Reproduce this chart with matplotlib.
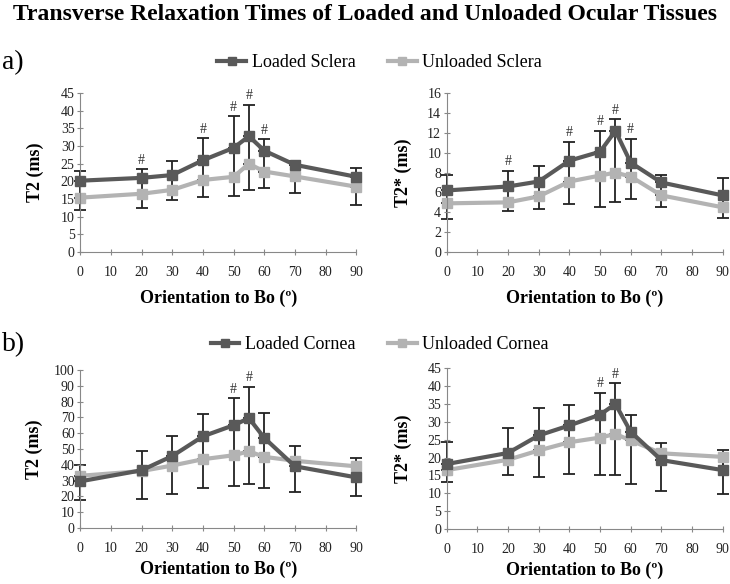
import numpy as np
import matplotlib.pyplot as plt

plt.rcParams['font.family'] = ['Liberation Serif', 'DejaVu Serif']

angles = [0, 20, 30, 40, 50, 55, 60, 70, 90]

# a) sclera, T2
sc_t2_loaded = [20.2, 21.0, 21.8, 26.0, 29.5, 32.8, 28.7, 24.7, 21.3]
sc_t2_loaded_up = [2.8, 2.5, 3.9, 6.3, 9.0, 8.9, 3.3, 1.1, 2.4]
sc_t2_unloaded = [15.4, 16.5, 17.6, 20.4, 21.3, 25.0, 22.8, 21.4, 18.5]
sc_t2_unloaded_dn = [3.6, 4.0, 2.9, 4.8, 5.3, 7.4, 4.8, 4.8, 5.1]

# a) sclera, T2*
sc_t2s_loaded = [6.2, 6.6, 7.1, 9.2, 10.1, 12.2, 9.0, 7.0, 5.7]
sc_t2s_loaded_up = [1.6, 1.6, 1.6, 1.9, 2.1, 1.2, 2.4, 0.8, 1.8]
sc_t2s_unloaded = [4.9, 5.0, 5.6, 7.1, 7.7, 8.0, 7.6, 5.7, 4.5]
sc_t2s_unloaded_dn = [1.6, 0.9, 1.3, 2.3, 3.2, 3.0, 2.3, 1.2, 1.1]

# b) cornea, T2
co_t2_loaded = [29.5, 36.5, 45.5, 58.0, 65.0, 69.5, 57.0, 39.0, 32.0]
co_t2_loaded_up = [10.5, 12.5, 13.0, 14.0, 17.0, 20.0, 16.0, 13.0, 12.0]
co_t2_unloaded = [33.0, 36.0, 39.5, 43.5, 46.0, 48.5, 45.0, 42.5, 39.0]
co_t2_unloaded_dn = [15.5, 17.5, 18.0, 18.0, 19.5, 20.5, 19.5, 20.0, 18.5]

# b) cornea, T2*
co_t2s_loaded = [18.2, 21.3, 26.2, 29.0, 32.0, 35.0, 27.2, 19.3, 16.5]
co_t2s_loaded_up = [6.1, 7.1, 7.8, 5.7, 6.2, 5.8, 4.8, 4.7, 5.5]
co_t2s_unloaded = [16.5, 19.4, 22.0, 24.3, 25.6, 26.6, 24.8, 21.2, 20.2]
co_t2s_unloaded_dn = [3.2, 4.4, 7.3, 9.0, 10.6, 11.6, 12.2, 10.5, 10.4]

sig_sclera = [20, 40, 50, 55, 60]
sig_cornea = [50, 55]

dark = '#595959'
light = '#b3b3b3'


def panel(ax, loaded, up, unloaded, dn, sig, ymax, ystep, ylabel, xpad, ypad):
    loaded = np.array(loaded)
    unloaded = np.array(unloaded)
    up = np.array(up)
    dn = np.array(dn)
    # connecting piece of the error bar between the two series
    ax.vlines(angles, np.minimum(loaded, unloaded), np.maximum(loaded, unloaded),
              color='#222222', lw=1.3, zorder=1)
    ax.errorbar(angles, loaded, yerr=[np.zeros_like(up), up], fmt='none',
                ecolor='#222222', elinewidth=1.3, capsize=4, capthick=1.3, zorder=1)
    ax.errorbar(angles, unloaded, yerr=[dn, np.zeros_like(dn)], fmt='none',
                ecolor='#222222', elinewidth=1.3, capsize=4, capthick=1.3, zorder=1)
    l1, = ax.plot(angles, loaded, color=dark, lw=3, marker='s', ms=6.5, zorder=3)
    l2, = ax.plot(angles, unloaded, color=light, lw=3, marker='s', ms=6.5, zorder=2)
    for a in sig:
        i = angles.index(a)
        ax.text(a, loaded[i] + up[i] + ymax * 0.015, '#', ha='center', va='bottom',
                fontsize=10, color='#333333')
    ax.set_xlim(0, 90)
    ax.set_ylim(0, ymax)
    ax.set_xticks(range(0, 91, 10))
    ax.set_yticks(np.arange(0, ymax + 0.1, ystep))
    ax.set_xlabel('Orientation to Bo (º)', fontsize=13, fontweight='bold', labelpad=xpad)
    ax.set_ylabel(ylabel, fontsize=13, fontweight='bold', labelpad=ypad)
    for s in ['top', 'right']:
        ax.spines[s].set_visible(False)
    for s in ['left', 'bottom']:
        ax.spines[s].set_color('#888888')
    ax.tick_params(axis='both', colors='#888888', labelcolor='#222222',
                   labelsize=10, length=4, direction='inout')
    ax.tick_params(axis='x', pad=8)
    ax.tick_params(axis='y', pad=2)
    for art in ax.get_children():
        art.set_clip_on(False)
    return l1, l2


fig = plt.figure(figsize=(7.3, 5.84), dpi=100)
fig.text(0.5, 0.975, 'Transverse Relaxation Times of Loaded and Unloaded Ocular Tissues',
         ha='center', va='center', fontsize=17, fontweight='bold')

ax1 = fig.add_axes([0.110, 0.5685, 0.378, 0.272])
ax2 = fig.add_axes([0.612, 0.5685, 0.378, 0.272])
ax3 = fig.add_axes([0.110, 0.096, 0.378, 0.2705])
ax4 = fig.add_axes([0.612, 0.094, 0.378, 0.2755])

h1, h2 = panel(ax1, sc_t2_loaded, sc_t2_loaded_up, sc_t2_unloaded, sc_t2_unloaded_dn,
               sig_sclera, 45, 5, 'T2 (ms)', 8, 12)
panel(ax2, sc_t2s_loaded, sc_t2s_loaded_up, sc_t2s_unloaded, sc_t2s_unloaded_dn,
      sig_sclera, 16, 2, 'T2* (ms)', 8, 11)
h3, h4 = panel(ax3, co_t2_loaded, co_t2_loaded_up, co_t2_unloaded, co_t2_unloaded_dn,
               sig_cornea, 100, 10, 'T2 (ms)', 4, 8)
panel(ax4, co_t2s_loaded, co_t2s_loaded_up, co_t2s_unloaded, co_t2s_unloaded_dn,
      sig_cornea, 45, 5, 'T2* (ms)', 4, 11)

fig.legend([h1, h2], ['Loaded Sclera', 'Unloaded Sclera'], loc='center',
           bbox_to_anchor=(0.52, 0.893), ncol=2, frameon=False, fontsize=13,
           handlelength=1.6, handletextpad=0.3, columnspacing=1.8, markerscale=0.8)
fig.legend([h3, h4], ['Loaded Cornea', 'Unloaded Cornea'], loc='center',
           bbox_to_anchor=(0.52, 0.41), ncol=2, frameon=False, fontsize=13,
           handlelength=1.6, handletextpad=0.3, columnspacing=1.8, markerscale=0.8)

fig.text(0.003, 0.892, 'a)', fontsize=20, va='center')
fig.text(0.003, 0.41, 'b)', fontsize=20, va='center')

fig.savefig('out.png', dpi=100)
